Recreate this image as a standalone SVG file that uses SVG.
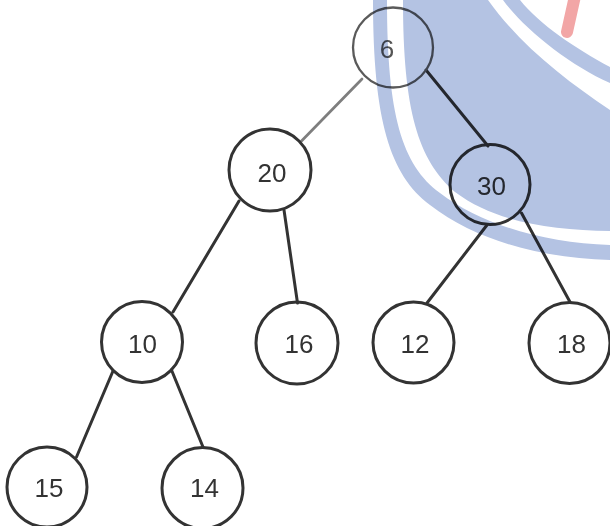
<svg xmlns="http://www.w3.org/2000/svg" width="610" height="526" viewBox="0 0 610 526">
<style>
.node circle{fill:none;stroke:#333;stroke-width:3}
.node text{font-family:"Liberation Sans",Arial,sans-serif;font-size:26px;fill:#333;text-anchor:middle}
#n6 circle{stroke:#5a5a5a;stroke-width:2.3}
#n6 text{fill:#555}
.edges line{stroke:#333;stroke-width:3;stroke-linecap:round}
.edges line.light{stroke:#7e7e7e;stroke-width:2.7}
.wm{fill:#b4c3e3}
</style>
<rect width="610" height="526" fill="#ffffff"/>
<g id="edges" class="edges">
<line class="light" x1="362" y1="79" x2="301.5" y2="141"/>
<line x1="426" y1="70" x2="488" y2="146"/>
<line x1="239" y1="201" x2="173" y2="312"/>
<line x1="284" y1="210" x2="297.5" y2="303"/>
<line x1="487" y1="225" x2="427" y2="303"/>
<line x1="521.5" y1="213" x2="570" y2="302"/>
<line x1="113" y1="371" x2="76.5" y2="457"/>
<line x1="171.5" y1="370" x2="203" y2="447"/>
</g>
<g id="n6" class="node"><circle cx="393" cy="47.5" r="40"/><text x="387" y="58">6</text></g>
<g id="n20" class="node"><circle cx="270" cy="170" r="41"/><text x="272" y="181.5">20</text></g>
<g id="n30" class="node"><circle cx="490" cy="184.5" r="40"/><text x="491.5" y="195">30</text></g>
<g id="n10" class="node"><circle cx="142" cy="342" r="40.5"/><text x="142.5" y="353">10</text></g>
<g id="n16" class="node"><circle cx="297" cy="343" r="41"/><text x="299" y="353">16</text></g>
<g id="n12" class="node"><circle cx="413.5" cy="342.5" r="40.5"/><text x="415" y="353">12</text></g>
<g id="n18" class="node"><circle cx="569.5" cy="343" r="40.5"/><text x="571.5" y="353">18</text></g>
<g id="n15" class="node"><circle cx="47" cy="487" r="40"/><text x="49" y="496.5">15</text></g>
<g id="n14" class="node"><circle cx="202.5" cy="488" r="40.5"/><text x="204.5" y="496.5">14</text></g>
<g id="watermark" style="mix-blend-mode:multiply">
<path class="wm" d="M373,0 C373,120 390,175 430,205 C475,240 540,258 610,260 L610,245 C545,243 482,225 440,193 C402,165 387,115 387,0 Z"/>
<path class="wm" d="M403,0 C403,110 418,160 455,192 C495,222 550,230 610,231 L610,110 C565,80 520,45 488,0 Z"/>
<path class="wm" d="M503,0 C525,30 570,65 610,83 L610,67 C575,48 540,25 520,0 Z"/>
<path d="M575,-4 L567,32" stroke="#f2a6a6" stroke-width="12" stroke-linecap="round" fill="none"/>
</g>
</svg>
